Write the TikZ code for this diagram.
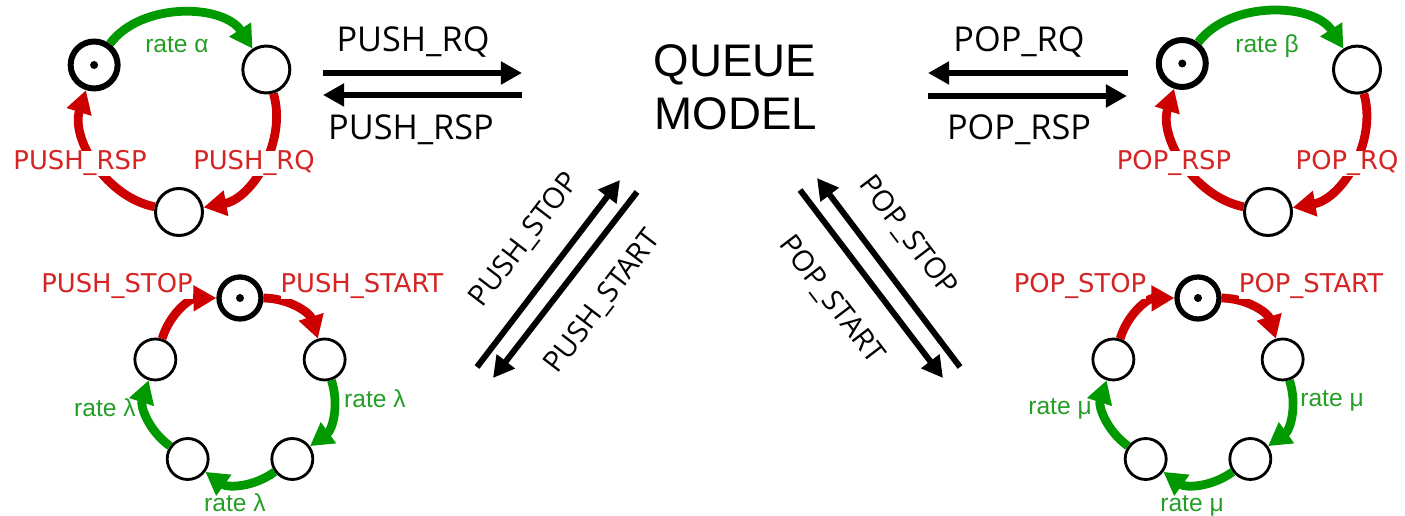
\documentclass[tikz,border=0pt]{standalone}
\usepackage{fontspec}
\setmainfont{Open Sans}
\newfontfamily\eventfont{DejaVu Sans}
\newfontfamily\ratefont{Liberation Sans}
\newfontfamily\modelfont{Liberation Sans}
\usetikzlibrary{arrows.meta}
\definecolor{arcred}{RGB}{204,0,0}
\definecolor{arcgreen}{RGB}{0,153,0}
\definecolor{txtred}{RGB}{214,36,36}
\definecolor{txtgreen}{RGB}{36,158,36}
\tikzstyle{qstate} = [circle, draw, fill=white, line width=1.7pt, minimum size=0.94cm, inner sep=0pt]
\tikzstyle{initstate} = [qstate, line width=3.4pt,
    path picture={\fill[black] (path picture bounding box.center) circle (0.08cm);}]
\tikzstyle{small} = [minimum size=0.82cm, line width=1.6pt]

\begin{document}
\begin{tikzpicture}[
x=0.02cm, y=0.02cm,
msg/.style = {line width=3.4pt, -{Triangle[length=12pt, width=12.5pt]}},
trans/.style = {line width=5pt, -{Triangle[length=13pt, width=14pt]}},
ev/.style = {font=\eventfont\fontsize{14.7}{17}\selectfont, text=txtred, fill=white, anchor=base, inner sep=0pt},
rt/.style = {font=\ratefont\fontsize{14}{16}\selectfont, text=txtgreen, anchor=base, inner sep=0pt},
sig/.style = {font=\fontsize{19.5}{22}\selectfont, inner sep=0pt},
diag/.style = {font=\fontsize{16.5}{19}\selectfont, inner sep=0pt},
                        ]
\useasboundingbox (0,0) rectangle (1405,516);

% queue in the middle
\node[font=\modelfont\fontsize{26}{30}\selectfont, anchor=base] (queue) at (735,439) {QUEUE};
\node[font=\modelfont\fontsize{26}{30}\selectfont, anchor=base] (model) at (736,386) {MODEL};

% push: request / response
\begin{scope}[shift={(179,402)}]
  \node[initstate] (pu0) at (150:98) {};
  \node[qstate] (pu1) at (27:98) {};
  \node[qstate] (pu2) at (270:98) {};
  \draw[trans, arcgreen] (pu0) to[bend left=55, looseness=0.95] (pu1);
  \draw[trans, arcred] (pu1) to[bend left=48, looseness=0.95] (pu2);
  \draw[trans, arcred] (pu2) to[bend left=48, looseness=0.95] (pu0);
\end{scope}
\node[rt] (rtAlpha) at (177,463) {rate α};
\node[ev] (evPushRsp) at (80,346) {PUSH\_RSP};
\node[ev] (evPushRq) at (254,346) {PUSH\_RQ};

% pop: request / response
\begin{scope}[shift={(1268,403)}]
  \node[initstate] (po0) at (150:99) {};
  \node[qstate] (po1) at (26:99) {};
  \node[qstate] (po2) at (270:99) {};
  \draw[trans, arcgreen] (po0) to[bend left=55, looseness=0.95] (po1);
  \draw[trans, arcred] (po1) to[bend left=48, looseness=0.95] (po2);
  \draw[trans, arcred] (po2) to[bend left=48, looseness=0.95] (po0);
\end{scope}
\node[rt] (rtBeta) at (1267,463) {rate β};
\node[ev] (evPopRsp) at (1174,346) {POP\_RSP};
\node[ev] (evPopRq) at (1347,346) {POP\_RQ};

% push: start / stop
\begin{scope}[shift={(240,129)}]
  \node[initstate, minimum size=0.84cm, line width=3pt] (ps0) at (90:89) {};
  \node[qstate, small] (ps1) at (18:89) {};
  \node[qstate, small] (ps2) at (-54:89) {};
  \node[qstate, small] (ps3) at (-126:89) {};
  \node[qstate, small] (ps4) at (162:89) {};
  \draw[trans, arcred] (ps0) to[bend left=36] (ps1);
  \draw[trans, arcgreen] (ps1) to[bend left=36] (ps2);
  \draw[trans, arcgreen] (ps2) to[bend left=36] (ps3);
  \draw[trans, arcgreen] (ps3) to[bend left=36] (ps4);
  \draw[trans, arcred] (ps4) to[bend left=36] (ps0);
\end{scope}
\node[ev] (evPushStop) at (117,223) {PUSH\_STOP};
\node[ev] (evPushStart) at (362,223) {PUSH\_START};
\node[rt] (rtLambda1) at (375,108) {rate λ};
\node[rt] (rtLambda2) at (235,4) {rate λ};
\node[rt] (rtLambda3) at (105,99) {rate λ};

% pop: start / stop
\begin{scope}[shift={(1198,129)}]
  \node[initstate, minimum size=0.84cm, line width=3pt] (pp0) at (90:89) {};
  \node[qstate, small] (pp1) at (18:89) {};
  \node[qstate, small] (pp2) at (-54:89) {};
  \node[qstate, small] (pp3) at (-126:89) {};
  \node[qstate, small] (pp4) at (162:89) {};
  \draw[trans, arcred] (pp0) to[bend left=36] (pp1);
  \draw[trans, arcgreen] (pp1) to[bend left=36] (pp2);
  \draw[trans, arcgreen] (pp2) to[bend left=36] (pp3);
  \draw[trans, arcgreen] (pp3) to[bend left=36] (pp4);
  \draw[trans, arcred] (pp4) to[bend left=36] (pp0);
\end{scope}
\node[ev] (evPopStop) at (1080,223) {POP\_STOP};
\node[ev] (evPopStart) at (1311,223) {POP\_START};
\node[rt] (rtMu1) at (1332,109) {rate μ};
\node[rt] (rtMu2) at (1192,4) {rate μ};
\node[rt] (rtMu3) at (1060,101) {rate μ};

% messages between the models
\coordinate (qa1) at (323,443); \coordinate (qa2) at (522,443);
\coordinate (qb1) at (522,421); \coordinate (qb2) at (323,421);
\draw[msg] (qa1) -- (qa2);
\draw[msg] (qb1) -- (qb2);
\node[sig, anchor=base] (sPushRq) at (413,464) {PUSH\_RQ};
\node[sig, anchor=base] (sPushRsp) at (411,376) {PUSH\_RSP};

\coordinate (oa1) at (1128,443); \coordinate (oa2) at (928,443);
\coordinate (ob1) at (928,420); \coordinate (ob2) at (1127,420);
\draw[msg] (oa1) -- (oa2);
\draw[msg] (ob1) -- (ob2);
\node[sig, anchor=base] (sPopRq) at (1019,464) {POP\_RQ};
\node[sig, anchor=base] (sPopRsp) at (1019,376) {POP\_RSP};

\coordinate (sa1) at (477,149); \coordinate (sa2) at (620,336);
\coordinate (sb1) at (637,324); \coordinate (sb2) at (493,138);
\draw[msg] (sa1) -- (sa2);
\draw[msg] (sb1) -- (sb2);
\node[diag, rotate=52.6] (sPushStop) at (525,276) {PUSH\_STOP};
\node[diag, rotate=52.6] (sPushStart) at (603,214) {PUSH\_START};

\coordinate (pa1) at (960,149); \coordinate (pa2) at (817,338);
\coordinate (pb1) at (800,326); \coordinate (pb2) at (943,138);
\draw[msg] (pa1) -- (pa2);
\draw[msg] (pb1) -- (pb2);
\node[diag, rotate=-52.6] (sPopStop) at (908,280) {POP\_STOP};
\node[diag, rotate=-52.6] (sPopStart) at (831,216) {POP\_START};
\end{tikzpicture}
\end{document}
